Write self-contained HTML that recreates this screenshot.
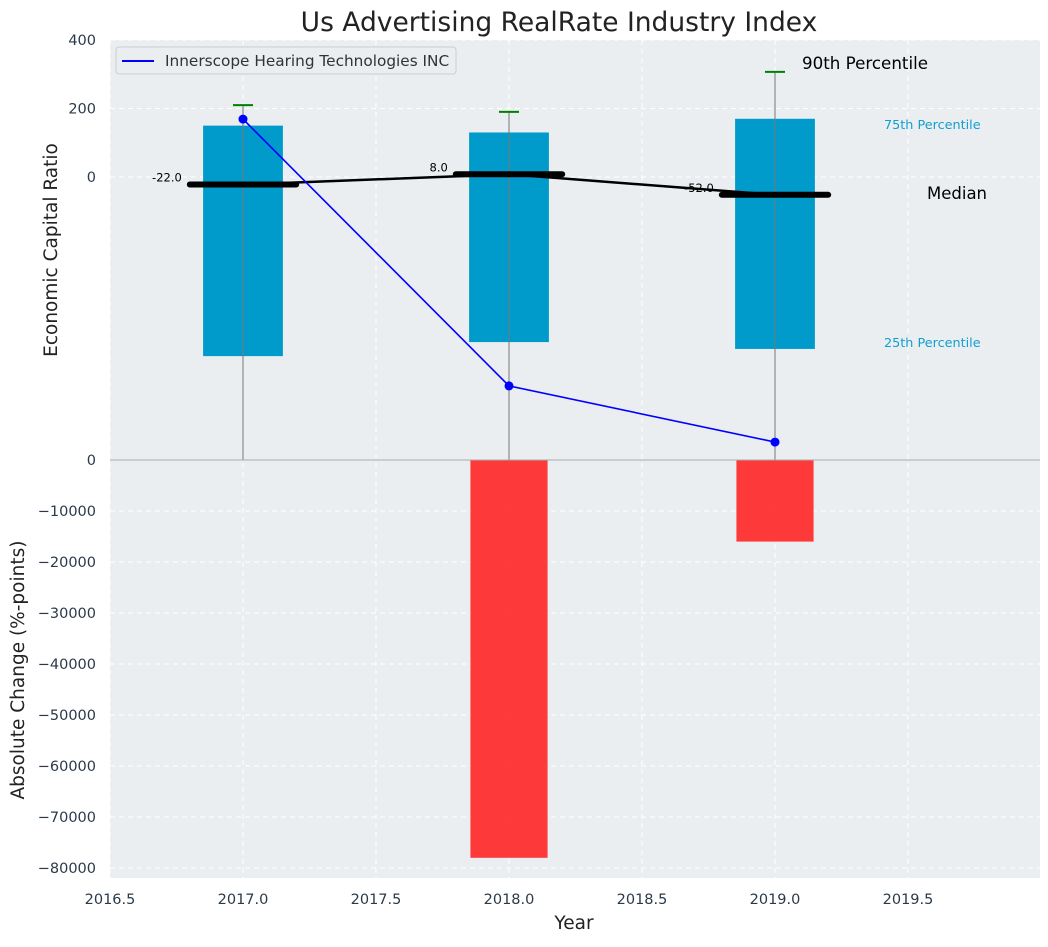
<!DOCTYPE html>
<html><head><meta charset="utf-8"><style>
body{margin:0;background:#fff;font-family:"Liberation Sans","DejaVu Sans",sans-serif}
svg text{font-family:"DejaVu Sans","Liberation Sans",sans-serif}
</style></head><body>
<svg id="chart" width="1048" height="942"></svg>
<script>
const years=[2017,2018,2019];
const p25=[-523,-482,-502];
const p75=[150,130,170];
const p90=[210,190,307];
const medians=[-22,8,-52];
const company=[169,-610,-774];
const absChange=[0,-78000,-16000];
const xTicks=[2016.5,2017,2017.5,2018,2018.5,2019,2019.5];
const topTicks=[0,200,400];
const botTicks=[0,-10000,-20000,-30000,-40000,-50000,-60000,-70000,-80000];

const NS="http://www.w3.org/2000/svg";
const svg=document.getElementById('chart');
function el(t,a,p){const e=document.createElementNS(NS,t);for(const k in a)e.setAttribute(k,a[k]);(p||svg).appendChild(e);return e;}
const L=110,R=1040,T1=40,B1=460,T2=460,B2=878;
const X=v=>L+(v-2016.5)*266;
const Y1=v=>177-v*0.3425;
const Y2=v=>460-v*408/80000;
let b=el('rect',{x:L,y:T1,width:R-L,height:B1-T1,fill:'#eaeef0'});

b=el('rect',{x:L,y:T2,width:R-L,height:B2-T2,fill:'#eaeef0'});

xTicks.forEach(v=>{el('line',{x1:X(v),x2:X(v),y1:T1,y2:B2,stroke:'#fff','stroke-dasharray':'5,4','stroke-width':1});});
topTicks.forEach(v=>{el('line',{x1:L,x2:R,y1:Y1(v),y2:Y1(v),stroke:'#fff','stroke-dasharray':'5,4'});});
botTicks.forEach(v=>{el('line',{x1:L,x2:R,y1:Y2(v),y2:Y2(v),stroke:'#fff','stroke-dasharray':'5,4'});});
topTicks.forEach(v=>{const t=el('text',{x:96,y:Y1(v)+5,'text-anchor':'end','font-size':14.5,fill:'#2b3a4a'});t.textContent=v;
});
botTicks.forEach(v=>{const t=el('text',{x:96,y:Y2(v)+5,'text-anchor':'end','font-size':14.5,fill:'#2b3a4a'});t.textContent=v===0?'0':'\u2212'+Math.abs(v);
});
xTicks.forEach(v=>{const t=el('text',{x:X(v),y:904,'text-anchor':'middle','font-size':14.5,fill:'#2b3a4a'});t.textContent=v.toFixed(1);
});
years.forEach((y,i)=>{const r=el('rect',{x:X(y-0.15),y:Y1(p75[i]),width:X(y+0.15)-X(y-0.15),height:Y1(p25[i])-Y1(p75[i]),fill:'#009bcb'});
});
years.forEach((y,i)=>{el('line',{x1:X(y),x2:X(y),y1:Y1(p90[i]),y2:B1,stroke:'#777','stroke-width':1});
const c=el('line',{x1:X(y)-10,x2:X(y)+10,y1:Y1(p90[i]),y2:Y1(p90[i]),stroke:'green','stroke-width':2});
});
el('polyline',{points:years.map((y,i)=>X(y)+','+Y1(medians[i])).join(' '),fill:'none',stroke:'#000','stroke-width':2.5});
years.forEach((y,i)=>{const m=el('line',{x1:X(y-0.2),x2:X(y+0.2),y1:Y1(medians[i]),y2:Y1(medians[i]),stroke:'#000','stroke-width':6,'stroke-linecap':'round'});

const t=el('text',{x:X(y-0.23),y:Y1(medians[i])-3,'text-anchor':'end','font-size':11.5,fill:'#000'});t.textContent=medians[i].toFixed(1);
});
el('polyline',{points:years.map((y,i)=>X(y)+','+Y1(company[i])).join(' '),fill:'none',stroke:'#0000ff','stroke-width':1.6});
years.forEach((y,i)=>{const c=el('circle',{cx:X(y),cy:Y1(company[i]),r:4.5,fill:'#0000ff'});
});
years.forEach((y,i)=>{if(!absChange[i])return;const r=el('rect',{x:X(y-0.145),y:Y2(0),width:X(y+0.145)-X(y-0.145),height:Y2(absChange[i])-Y2(0),fill:'#ff2020','fill-opacity':0.88});
});
el('line',{x1:L,x2:R,y1:460,y2:460,stroke:'#aaa','stroke-width':1});
function txt(s,a,name){const t=el('text',a);t.textContent=s;return t;}
txt('90th Percentile',{x:802,y:69,'font-size':16.7,fill:'#000'},'p90-annotation');
txt('75th Percentile',{x:884,y:129,'font-size':12.8,fill:'#119fcf'},'p75-annotation');
txt('Median',{x:927,y:199,'font-size':16.5,fill:'#000'},'median-annotation');
txt('25th Percentile',{x:884,y:347,'font-size':12.8,fill:'#119fcf'},'p25-annotation');
txt('Us Advertising RealRate Industry Index',{x:559,y:31,'text-anchor':'middle','font-size':26.5,fill:'#222'},'chart-title');
txt('Year',{x:574,y:929,'text-anchor':'middle','font-size':18.5,fill:'#222'},'x-axis-title');
txt('Economic Capital Ratio',{x:0,y:0,'text-anchor':'middle','font-size':18.5,fill:'#222',transform:'translate(57,250) rotate(-90)'},'top-y-axis-title');
txt('Absolute Change (%-points)',{x:0,y:0,'text-anchor':'middle','font-size':18.5,fill:'#222',transform:'translate(24,670) rotate(-90)'},'bottom-y-axis-title');
const lg=el('g',{});
el('rect',{x:116,y:47,width:340,height:27,rx:3,fill:'#eaeef0',stroke:'#ccc'},lg);
el('line',{x1:122,x2:154,y1:61,y2:61,stroke:'#0000ff','stroke-width':2},lg);
const lt=el('text',{x:165,y:66,'font-size':15.3,fill:'#333'},lg);lt.textContent='Innerscope Hearing Technologies INC';

</script>
</body></html>
